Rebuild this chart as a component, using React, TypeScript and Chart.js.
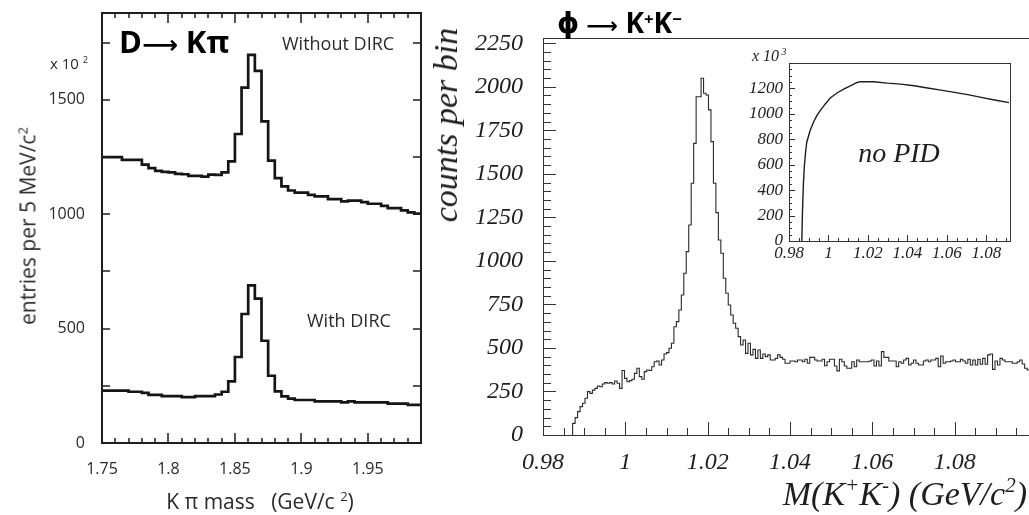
import React, { useEffect, useRef } from "react";
import { Chart, registerables } from "chart.js";

Chart.register(...registerables);

// ---------- Left panel: D -> K pi ----------
const dkpiFirstEdge = 1.75;
const dkpiBinWidth = 0.005;
const dkpiWithoutDirc = [
  1250, 1250, 1250, 1238, 1238, 1238, 1217, 1202, 1190, 1185,
  1183, 1177, 1175, 1168, 1168, 1165, 1173, 1172, 1183, 1231,
  1351, 1554, 1697, 1627, 1406, 1235, 1158, 1122, 1104, 1095,
  1095, 1085, 1078, 1078, 1066, 1066, 1056, 1060, 1060, 1053,
  1046, 1046, 1037, 1027, 1027, 1017, 1008, 1003,
];
const dkpiWithDirc = [
  229, 229, 229, 229, 224, 224, 219, 210, 210, 205,
  205, 205, 201, 201, 205, 205, 205, 212, 224, 269,
  376, 564, 689, 631, 447, 294, 226, 204, 194, 188,
  188, 188, 182, 182, 182, 182, 178, 182, 178, 178,
  178, 178, 178, 172, 172, 172, 167, 167,
];
const dkpiXTicks = [1.75, 1.8, 1.85, 1.9, 1.95];
const dkpiYTicks = [0, 500, 1000, 1500];

// ---------- Right panel: phi -> K+ K- ----------
const phiFirstEdge = 0.9872;
const phiBinWidth = 0.0006;
const phiCounts = [
  67, 100, 134, 163, 182, 211, 249, 239, 258, 268,
  281, 277, 293, 301, 297, 301, 293, 310, 297, 268,
  370, 325, 306, 312, 320, 354, 383, 335, 320, 364,
  373, 370, 392, 421, 425, 402, 431, 465, 473, 498,
  527, 622, 651, 718, 804, 929, 1053, 1206, 1446, 1675,
  1943, 1943, 2049, 1963, 1953, 1867, 1685, 1446, 1277, 1120,
  1044, 900, 814, 747, 689, 642, 613, 565, 517, 546,
  469, 527, 460, 492, 440, 488, 440, 465, 450, 460,
  431, 431, 440, 460, 446, 435, 412, 412, 425, 425,
  421, 431, 431, 421, 435, 412, 446, 446, 431, 425,
  425, 435, 398, 421, 435, 435, 396, 368, 435, 421,
  396, 383, 383, 421, 392, 431, 421, 421, 421, 421,
  425, 431, 396, 425, 396, 479, 446, 446, 425, 425,
  425, 392, 421, 412, 431, 440, 402, 412, 431, 412,
  402, 402, 425, 431, 421, 431, 431, 440, 392, 454,
  412, 421, 421, 425, 431, 421, 421, 435, 425, 412,
  435, 402, 431, 402, 435, 406, 440, 406, 460, 465,
  377, 425, 402, 440, 431, 421, 421, 421, 412, 412,
  421, 431, 408, 383, 373, 390, 405, 400,
];
const phiXTicks = [0.98, 1, 1.02, 1.04, 1.06, 1.08];
const phiYTicks = [0, 250, 500, 750, 1000, 1250, 1500, 1750, 2000, 2250];

// ---------- Inset: no PID (x 10^3) ----------
const insetMass = [
  0.9865, 0.9868, 0.9873, 0.9878, 0.9884, 0.989, 0.9907, 0.9924, 0.9941, 0.9958, 0.9984,
  1.0009, 1.0043, 1.0077, 1.0111, 1.0145, 1.0162, 1.023, 1.0298, 1.0366, 1.0434,
  1.0502, 1.057, 1.0638, 1.0706, 1.0774, 1.0842, 1.0915,
];
const insetCounts = [
  0, 217, 451, 590, 700, 777, 869, 934, 986, 1025, 1078,
  1125, 1164, 1195, 1221, 1247, 1253, 1253, 1242, 1234, 1221,
  1203, 1187, 1169, 1151, 1130, 1109, 1088,
];
const insetXTicks = [0.98, 1, 1.02, 1.04, 1.06, 1.08];
const insetYTicks = [0, 200, 400, 600, 800, 1000, 1200];

// ---------- helpers ----------
function histogram(first: number, width: number, values: number[], fromBaseline: boolean) {
  const pts = values.map((v, i) => ({ x: first + i * width, y: v }));
  if (fromBaseline) pts.unshift({ x: first, y: 0 });
  pts.push({ x: first + values.length * width, y: values[values.length - 1] });
  return pts;
}

const fmt = (v: number) => String(parseFloat(Number(v).toFixed(4)));

type TickSpec = { step: number; len: number };
type AxisTickCfg = { minor?: TickSpec; major: TickSpec; sides: string[] };
type FrameCfg = { color: string; frameWidth: number; tickWidth: number; x: AxisTickCfg; y: AxisTickCfg };

function tickValues(min: number, max: number, step: number) {
  const out: number[] = [];
  const k0 = Math.ceil(min / step - 1e-6);
  const k1 = Math.floor(max / step + 1e-6);
  for (let k = k0; k <= k1; k++) out.push(k * step);
  return out;
}
const isMult = (v: number, step: number) => Math.abs(v / step - Math.round(v / step)) < 1e-6;

function framePlugin(cfg: FrameCfg) {
  return {
    id: "frameTicks",
    afterDatasetsDraw(chart: any) {
      const { ctx, chartArea: a } = chart;
      const xs = chart.scales.x;
      const ys = chart.scales.y;
      const off = cfg.tickWidth % 2 === 1 ? 0.5 : 0;
      ctx.save();
      ctx.strokeStyle = cfg.color;
      ctx.lineWidth = cfg.tickWidth;
      ctx.beginPath();
      const xStep = cfg.x.minor ? cfg.x.minor.step : cfg.x.major.step;
      for (const v of tickValues(xs.min, xs.max, xStep)) {
        const len = isMult(v, cfg.x.major.step) ? cfg.x.major.len : cfg.x.minor!.len;
        const px = Math.round(xs.getPixelForValue(v)) + off;
        if (cfg.x.sides.includes("bottom")) { ctx.moveTo(px, a.bottom); ctx.lineTo(px, a.bottom - len); }
        if (cfg.x.sides.includes("top")) { ctx.moveTo(px, a.top); ctx.lineTo(px, a.top + len); }
      }
      const yStep = cfg.y.minor ? cfg.y.minor.step : cfg.y.major.step;
      for (const v of tickValues(ys.min, ys.max, yStep)) {
        const len = isMult(v, cfg.y.major.step) ? cfg.y.major.len : cfg.y.minor!.len;
        const py = Math.round(ys.getPixelForValue(v)) + off;
        if (cfg.y.sides.includes("left")) { ctx.moveTo(a.left, py); ctx.lineTo(a.left + len, py); }
        if (cfg.y.sides.includes("right")) { ctx.moveTo(a.right, py); ctx.lineTo(a.right - len, py); }
      }
      ctx.stroke();
      ctx.lineWidth = cfg.frameWidth;
      const fo = cfg.frameWidth % 2 === 1 ? 0.5 : 0;
      ctx.strokeRect(a.left + fo, a.top + fo, a.right - a.left, a.bottom - a.top);
      ctx.restore();
    },
  };
}

function axes(opts: {
  xMin: number; xMax: number; yMin: number; yMax: number;
  xTicks: number[]; yTicks: number[]; yWidth: number; xHeight: number;
  font: any; color: string; xPad: number; yPad: number;
}) {
  const common = {
    type: "linear",
    grid: { display: false, drawTicks: false },
    border: { display: false },
  };
  return {
    x: {
      ...common,
      min: opts.xMin, max: opts.xMax,
      ticks: { autoSkip: false, maxRotation: 0, minRotation: 0, padding: opts.xPad, font: opts.font, color: opts.color, callback: (v: any) => fmt(v) },
      afterBuildTicks: (s: any) => { s.ticks = opts.xTicks.map((v) => ({ value: v })); },
      afterFit: (s: any) => { s.height = opts.xHeight; s.paddingLeft = 0; s.paddingRight = 0; s.paddingTop = 0; s.paddingBottom = 0; },
    },
    y: {
      ...common,
      min: opts.yMin, max: opts.yMax,
      ticks: { autoSkip: false, padding: opts.yPad, font: opts.font, color: opts.color, callback: (v: any) => fmt(v) },
      afterBuildTicks: (s: any) => { s.ticks = opts.yTicks.map((v) => ({ value: v })); },
      afterFit: (s: any) => { s.width = opts.yWidth; s.paddingLeft = 0; s.paddingRight = 0; s.paddingTop = 0; s.paddingBottom = 0; },
    },
  };
}

const baseOptions = {
  responsive: false,
  animation: false,
  events: [],
  plugins: { legend: { display: false }, tooltip: { enabled: false }, title: { display: false } },
};

function leftConfig(): any {
  const line = { stepped: true, borderColor: "#151515", borderWidth: 2.7, pointRadius: 0, fill: false, borderJoinStyle: "miter", borderCapStyle: "butt" };
  return {
    type: "line",
    data: {
      datasets: [
        { ...line, label: "Without DIRC", data: histogram(dkpiFirstEdge, dkpiBinWidth, dkpiWithoutDirc, false) },
        { ...line, label: "With DIRC", data: histogram(dkpiFirstEdge, dkpiBinWidth, dkpiWithDirc, false) },
      ],
    },
    options: {
      ...baseOptions,
      layout: { padding: { top: 13, right: 19, left: 0, bottom: 0 } },
      scales: axes({
        xMin: 1.75, xMax: 1.99, yMin: 0, yMax: 1880, xTicks: dkpiXTicks, yTicks: dkpiYTicks,
        yWidth: 102, xHeight: 72, font: { family: "'Open Sans', sans-serif", size: 16 }, color: "#2a2a2a", xPad: 17, yPad: 17,
      }),
    },
    plugins: [framePlugin({
      color: "#1e1e1e", frameWidth: 2, tickWidth: 1.5,
      x: { minor: { step: 0.01, len: 5 }, major: { step: 0.05, len: 10 }, sides: ["bottom", "top"] },
      y: { major: { step: 250, len: 8 }, sides: ["left", "right"] },
    })],
  };
}

function rightConfig(): any {
  return {
    type: "line",
    data: {
      datasets: [{
        label: "phi -> K+K-", data: histogram(phiFirstEdge, phiBinWidth, phiCounts, true),
        stepped: true, borderColor: "#2a2a2a", borderWidth: 1.1, pointRadius: 0, fill: false, borderJoinStyle: "miter",
      }],
    },
    options: {
      ...baseOptions,
      layout: { padding: { top: 38, right: 13, left: 0, bottom: 0 } },
      scales: axes({
        xMin: 0.98, xMax: 1.1, yMin: 0, yMax: 2280, xTicks: phiXTicks, yTicks: phiYTicks,
        yWidth: 113, xHeight: 80, font: { family: "'Liberation Serif', serif", size: 24, style: "italic" }, color: "#1e1e1e", xPad: 13, yPad: 20,
      }),
    },
    plugins: [framePlugin({
      color: "#333333", frameWidth: 1, tickWidth: 1,
      x: { minor: { step: 0.005, len: 7 }, major: { step: 0.02, len: 13 }, sides: ["bottom"] },
      y: { minor: { step: 50, len: 8 }, major: { step: 250, len: 13 }, sides: ["left"] },
    })],
  };
}

function insetConfig(): any {
  return {
    type: "line",
    data: {
      datasets: [{
        label: "no PID", data: insetMass.map((m, i) => ({ x: m, y: insetCounts[i] })),
        borderColor: "#1e1e1e", borderWidth: 1.4, pointRadius: 0, fill: false, tension: 0,
      }],
    },
    options: {
      ...baseOptions,
      layout: { padding: { top: 33, right: 20, left: 0, bottom: 0 } },
      scales: axes({
        xMin: 0.98, xMax: 1.092, yMin: 0, yMax: 1400, xTicks: insetXTicks, yTicks: insetYTicks,
        yWidth: 90, xHeight: 29, font: { family: "'Liberation Serif', serif", size: 17, style: "italic" }, color: "#1e1e1e", xPad: 2, yPad: 6,
      }),
    },
    plugins: [framePlugin({
      color: "#333333", frameWidth: 1, tickWidth: 1,
      x: { minor: { step: 0.005, len: 3 }, major: { step: 0.02, len: 6 }, sides: ["bottom"] },
      y: { minor: { step: 50, len: 3 }, major: { step: 200, len: 6 }, sides: ["left"] },
    })],
  };
}

// ---------- text overlay ----------
function Txt(props: { x: number; y: number; anchor?: string; rotate?: boolean; style?: any; children: any }) {
  const { x, y, anchor = "left", rotate = false, style, children } = props;
  const tx = anchor === "center" ? "-50%" : anchor === "right" ? "-100%" : "0";
  const transform = rotate ? "translate(-50%, -50%) rotate(-90deg)" : `translate(${tx}, -50%)`;
  return (
    <div style={{ position: "absolute", left: x, top: y, transform, whiteSpace: "pre", lineHeight: 1, ...style }}>
      {children}
    </div>
  );
}
const Sup = (p: { children: any; top?: string; size?: string }) => (
  <span style={{ fontSize: p.size || "0.62em", position: "relative", top: p.top || "-0.62em" }}>{p.children}</span>
);

const sans = "'Open Sans', 'DejaVu Sans', sans-serif";
const serif = "'Liberation Serif', 'DejaVu Serif', serif";
const arrowFont = "'DejaVu Sans', sans-serif";

export default function App() {
  const leftRef = useRef<HTMLCanvasElement>(null);
  const rightRef = useRef<HTMLCanvasElement>(null);
  const insetRef = useRef<HTMLCanvasElement>(null);

  useEffect(() => {
    const charts = [
      new Chart(leftRef.current as HTMLCanvasElement, leftConfig()),
      new Chart(rightRef.current as HTMLCanvasElement, rightConfig()),
      new Chart(insetRef.current as HTMLCanvasElement, insetConfig()),
    ];
    return () => charts.forEach((c) => c.destroy());
  }, []);

  return (
    <div style={{ position: "fixed", left: 0, top: 0, width: 1029, height: 515, overflow: "hidden", background: "#fff" }}>
      <canvas ref={leftRef} width={440} height={515} style={{ position: "absolute", left: 0, top: 0, width: 440, height: 515 }} />
      <canvas ref={rightRef} width={620} height={515} style={{ position: "absolute", left: 430, top: 0, width: 620, height: 515 }} />
      <canvas ref={insetRef} width={331} height={240} style={{ position: "absolute", left: 699, top: 30, width: 331, height: 240 }} />

      {/* left panel texts */}
      <Txt x={119} y={41} style={{ fontFamily: sans, fontWeight: 700, fontSize: 31, color: "#000" }}>D<span style={{ fontFamily: arrowFont, fontWeight: 700, fontSize: 25 }}>⟶</span> Kπ</Txt>
      <Txt x={282} y={43} style={{ fontFamily: sans, fontSize: 18, color: "#2a2a2a" }}>Without DIRC</Txt>
      <Txt x={307} y={320} style={{ fontFamily: sans, fontSize: 18, color: "#2a2a2a" }}>With DIRC</Txt>
      <Txt x={50} y={63} style={{ fontFamily: sans, fontSize: 15, color: "#2a2a2a" }}>x 10 <Sup>2</Sup></Txt>
      <Txt x={28} y={226} rotate style={{ fontFamily: sans, fontSize: 21, color: "#2a2a2a" }}>entries per 5 MeV/c<Sup>2</Sup></Txt>
      <Txt x={260} y={501} anchor="center" style={{ fontFamily: sans, fontSize: 21, color: "#2a2a2a" }}>K π mass   (GeV/c <Sup>2</Sup>)</Txt>

      {/* right panel texts */}
      <Txt x={557} y={22} style={{ fontFamily: sans, fontWeight: 700, fontSize: 28, color: "#000" }}>ϕ <span style={{ fontFamily: arrowFont, fontWeight: 700, fontSize: 22 }}>⟶</span> K<Sup size="0.6em" top="-0.5em">+</Sup>K<Sup size="0.6em" top="-0.5em">−</Sup></Txt>
      <Txt x={446} y={125} rotate style={{ fontFamily: serif, fontStyle: "italic", fontSize: 34, color: "#1e1e1e" }}>counts per bin</Txt>
      <Txt x={1027} y={494} anchor="right" style={{ fontFamily: serif, fontStyle: "italic", fontSize: 34, color: "#1e1e1e" }}>M(K<Sup>+</Sup>K<Sup>-</Sup>) (GeV/c<Sup>2</Sup>)</Txt>
      <Txt x={752} y={56} style={{ fontFamily: serif, fontStyle: "italic", fontSize: 16, color: "#1e1e1e" }}>x 10<Sup> 3</Sup></Txt>
      <Txt x={899} y={153} anchor="center" style={{ fontFamily: serif, fontStyle: "italic", fontSize: 28, color: "#1e1e1e" }}>no PID</Txt>
    </div>
  );
}
